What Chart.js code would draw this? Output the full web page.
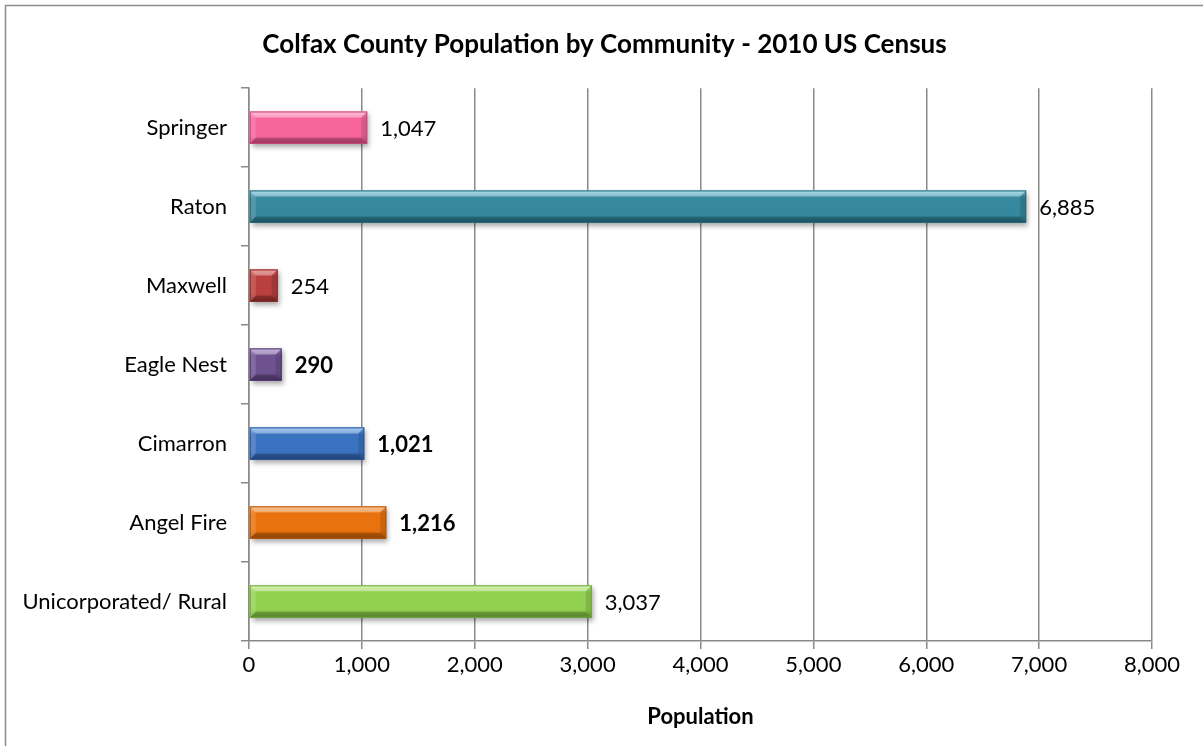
<!DOCTYPE html>
<html>
<head>
<meta charset="utf-8">
<style>
  html, body { margin: 0; padding: 0; background: #fff; }
  #wrap { position: relative; width: 1203px; height: 746px; }
</style>
</head>
<body>
<div id="wrap">
  <canvas id="popChart" width="1203" height="746"></canvas>
</div>
<script src="https://cdn.jsdelivr.net/npm/chart.js@4.4.1/dist/chart.umd.min.js"></script>
<script>
  const communities = ['Springer', 'Raton', 'Maxwell', 'Eagle Nest', 'Cimarron', 'Angel Fire', 'Unicorporated/ Rural'];
  const population = [1047, 6885, 254, 290, 1021, 1216, 3037];
  const boldLabel = [false, false, false, true, true, true, false];
  // base / light / dark shade for each bar
  const barBase = ['#f7659b', '#35889d', '#b9403d', '#6e5290', '#3b73c1', '#e8720e', '#92d050'];
  const barLight = ['#ff9cc2', '#7fd0e6', '#dc6a66', '#a58cc8', '#78b4f0', '#f9a55a', '#c2ec8c'];
  const barDark = ['#c8467a', '#256a7c', '#8a2c2a', '#523a70', '#2a5696', '#b65506', '#6ea83a'];
  const xTicks = [0, 1000, 2000, 3000, 4000, 5000, 6000, 7000, 8000];

  const FONT = 'Lato, "Open Sans", sans-serif';
  const fmt = v => v.toLocaleString('en-US');

  // frame around the chart, only top and left edges are inside the canvas
  const framePlugin = {
    id: 'frame',
    beforeDraw(chart) {
      const ctx = chart.ctx;
      ctx.save();
      ctx.strokeStyle = '#8c8c8c';
      ctx.lineWidth = 1.5;
      ctx.strokeRect(5.5, 5.5, 1220, 780);
      ctx.restore();
    }
  };

  // shadow under bars
  const shadowPlugin = {
    id: 'barShadow',
    beforeDatasetDraw(chart) {
      const ctx = chart.ctx;
      ctx.save();
      ctx.shadowColor = 'rgba(0,0,0,0.35)';
      ctx.shadowBlur = 5;
      ctx.shadowOffsetX = 2;
      ctx.shadowOffsetY = 3;
    },
    afterDatasetDraw(chart) {
      chart.ctx.restore();
    }
  };

  // bevel highlight on each bar, then the value label
  const bevelPlugin = {
    id: 'bevel',
    afterDatasetsDraw(chart) {
      const ctx = chart.ctx;
      const meta = chart.getDatasetMeta(0);
      meta.data.forEach((bar, i) => {
        const x0 = bar.base, x1 = bar.x;
        const y0 = bar.y - bar.height / 2, y1 = bar.y + bar.height / 2;
        const h = y1 - y0;
        const b = Math.min(6, h / 4, (x1 - x0) / 4);
        ctx.save();
        // main vertical shading
        const g = ctx.createLinearGradient(0, y0, 0, y1);
        g.addColorStop(0, barLight[i]);
        g.addColorStop(0.22, barBase[i]);
        g.addColorStop(0.75, barBase[i]);
        g.addColorStop(1, barDark[i]);
        ctx.fillStyle = g;
        ctx.fillRect(x0, y0, x1 - x0, h);
        // top bevel
        ctx.fillStyle = 'rgba(255,255,255,0.35)';
        ctx.beginPath();
        ctx.moveTo(x0, y0); ctx.lineTo(x1, y0); ctx.lineTo(x1 - b, y0 + b); ctx.lineTo(x0 + b, y0 + b);
        ctx.closePath(); ctx.fill();
        // bottom bevel
        ctx.fillStyle = 'rgba(0,0,0,0.22)';
        ctx.beginPath();
        ctx.moveTo(x0, y1); ctx.lineTo(x1, y1); ctx.lineTo(x1 - b, y1 - b); ctx.lineTo(x0 + b, y1 - b);
        ctx.closePath(); ctx.fill();
        // right bevel
        ctx.fillStyle = 'rgba(0,0,0,0.12)';
        ctx.beginPath();
        ctx.moveTo(x1, y0); ctx.lineTo(x1, y1); ctx.lineTo(x1 - b, y1 - b); ctx.lineTo(x1 - b, y0 + b);
        ctx.closePath(); ctx.fill();
        // left bevel
        ctx.fillStyle = 'rgba(255,255,255,0.15)';
        ctx.beginPath();
        ctx.moveTo(x0, y0); ctx.lineTo(x0, y1); ctx.lineTo(x0 + b, y1 - b); ctx.lineTo(x0 + b, y0 + b);
        ctx.closePath(); ctx.fill();
        ctx.strokeStyle = barDark[i];
        ctx.lineWidth = 1;
        ctx.strokeRect(x0 + 0.5, y0 + 0.5, x1 - x0 - 1, h - 1);
        ctx.restore();

        // value label
        ctx.save();
        ctx.fillStyle = '#000';
        ctx.font = (boldLabel[i] ? 'bold ' : '') + '22px ' + FONT;
        ctx.textAlign = 'left';
        ctx.textBaseline = 'middle';
        ctx.fillText(fmt(population[i]), x1 + 13, bar.y + 1);
        ctx.restore();
      });
    }
  };

  new Chart(document.getElementById('popChart'), {
    type: 'bar',
    data: {
      labels: communities,
      datasets: [{
        data: population,
        backgroundColor: barBase,
        borderColor: barDark,
        borderWidth: 0,
        categoryPercentage: 1,
        barPercentage: 0.41
      }]
    },
    options: {
      indexAxis: 'y',
      responsive: false,
      animation: false,
      layout: { padding: { left: 6, right: 0, top: 0, bottom: 0 } },
      plugins: {
        legend: { display: false },
        tooltip: { enabled: false },
        title: {
          display: true,
          text: 'Colfax County Population by Community - 2010 US Census',
          color: '#000',
          font: { family: FONT, size: 26, weight: 'bold' },
          padding: { top: 29, bottom: 28 }
        }
      },
      scales: {
        x: {
          min: 0,
          max: 8000,
          afterBuildTicks(scale) { scale.ticks = xTicks.map(v => ({ value: v })); },
          // room on the right of the plot, kept out of the title's width
          afterFit(scale) { scale.height = 105; scale.paddingRight = 51; },
          grid: { color: '#8a8a8a', lineWidth: 1.5, tickLength: 8, drawTicks: true },
          border: { color: '#8a8a8a', width: 1.5 },
          ticks: {
            color: '#000',
            padding: 3,
            maxRotation: 0,
            font: { family: FONT, size: 22 },
            callback: v => fmt(v)
          },
          title: {
            display: true,
            text: 'Population',
            color: '#000',
            font: { family: FONT, size: 22, weight: 'bold' },
            padding: { top: 0, bottom: 16 }
          }
        },
        y: {
          afterFit(scale) { scale.width = 243; },
          grid: { offset: true, drawOnChartArea: false, color: '#8a8a8a', lineWidth: 1.5, tickLength: 8 },
          border: { color: '#8a8a8a', width: 1.5 },
          ticks: {
            color: '#000',
            padding: 14,
            font: { family: FONT, size: 22 }
          }
        }
      }
    },
    plugins: [framePlugin, shadowPlugin, bevelPlugin]
  });
</script>
</body>
</html>
